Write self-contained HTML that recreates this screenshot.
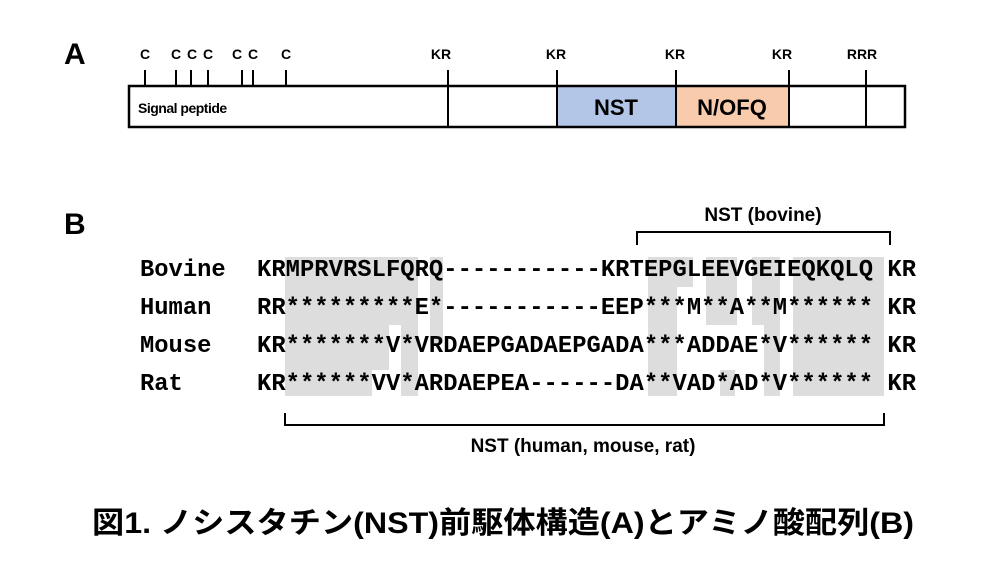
<!DOCTYPE html>
<html><head><meta charset="utf-8"><style>
body{margin:0;background:#fff;}
svg text{font-family:"Liberation Sans",sans-serif;font-weight:bold;}
svg .mono text{font-family:"Liberation Mono","DejaVu Sans Mono",monospace;font-weight:bold;font-size:23.8px;}
</style></head><body>
<svg width="1000" height="563" viewBox="0 0 1000 563" xmlns="http://www.w3.org/2000/svg">
<text x="64" y="64" font-size="30">A</text>
<g stroke="#000" stroke-width="2">
<line x1="145" y1="70" x2="145" y2="86"/><line x1="176" y1="70" x2="176" y2="86"/><line x1="191" y1="70" x2="191" y2="86"/><line x1="208" y1="70" x2="208" y2="86"/><line x1="242" y1="70" x2="242" y2="86"/><line x1="253" y1="70" x2="253" y2="86"/><line x1="286" y1="70" x2="286" y2="86"/>
<line x1="448" y1="70" x2="448" y2="86"/><line x1="557" y1="70" x2="557" y2="86"/><line x1="676" y1="70" x2="676" y2="86"/><line x1="789" y1="70" x2="789" y2="86"/><line x1="866" y1="70" x2="866" y2="86"/>
</g>
<g font-size="14" text-anchor="middle">
<text x="145" y="59">C</text><text x="176" y="59">C</text><text x="192" y="59">C</text><text x="208" y="59">C</text><text x="237" y="59">C</text><text x="253" y="59">C</text><text x="286" y="59">C</text>
<text x="441" y="59">KR</text><text x="556" y="59">KR</text><text x="675" y="59">KR</text><text x="782" y="59">KR</text><text x="862" y="59">RRR</text>
</g>
<rect x="557" y="86" width="119" height="41" fill="#b4c6e7"/>
<rect x="676" y="86" width="113" height="41" fill="#f8cbad"/>
<rect x="129" y="86" width="776" height="41" fill="none" stroke="#000" stroke-width="2.5"/>
<g stroke="#000" stroke-width="2"><line x1="448" y1="86" x2="448" y2="127"/><line x1="557" y1="86" x2="557" y2="127"/><line x1="676" y1="86" x2="676" y2="127"/><line x1="789" y1="86" x2="789" y2="127"/><line x1="866" y1="86" x2="866" y2="127"/></g>
<text x="138" y="113" font-size="14" letter-spacing="-0.5">Signal peptide</text>
<text x="616" y="115" font-size="22" text-anchor="middle">NST</text>
<text x="732" y="115" font-size="22" text-anchor="middle">N/OFQ</text>

<text x="64" y="234" font-size="30">B</text>
<text x="763" y="221" font-size="19" text-anchor="middle">NST (bovine)</text>
<path d="M637 245 V232 H890 V245" fill="none" stroke="#000" stroke-width="2"/>

<g fill="#dcdddc">
<rect x="285" y="257" width="133" height="68"/>
<rect x="285" y="325" width="104" height="45"/><rect x="401" y="325" width="17" height="71"/>
<rect x="285" y="370" width="87" height="26"/>
<rect x="430" y="257" width="13" height="86"/>
<rect x="648" y="257" width="29" height="139"/><rect x="677" y="257" width="16" height="30"/>
<rect x="706" y="257" width="31" height="68"/>
<rect x="720" y="370" width="15" height="26"/>
<rect x="752" y="257" width="15" height="68"/>
<rect x="764" y="257" width="16" height="139"/>
<rect x="793" y="257" width="91" height="139"/>
</g>
<g class="mono">
<text x="140" y="276">Bovine</text>
<text x="140" y="314">Human</text>
<text x="140" y="352">Mouse</text>
<text x="140" y="390">Rat</text>
<text x="257" y="276" textLength="659" lengthAdjust="spacing" xml:space="preserve">KRMPRVRSLFQRQ-----------KRTEPGLEEVGEIEQKQLQ KR</text>
<text x="257" y="314" textLength="659" lengthAdjust="spacing" xml:space="preserve">RR*********E*-----------EEP***M**A**M****** KR</text>
<text x="257" y="352" textLength="659" lengthAdjust="spacing" xml:space="preserve">KR*******V*VRDAEPGADAEPGADA***ADDAE*V****** KR</text>
<text x="257" y="390" textLength="659" lengthAdjust="spacing" xml:space="preserve">KR******VV*ARDAEPEA------DA**VAD*AD*V****** KR</text>
</g>
<path d="M285 413 V425 H884 V413" fill="none" stroke="#000" stroke-width="2"/>
<text x="583" y="452" font-size="19" text-anchor="middle">NST (human, mouse, rat)</text>
<text x="503" y="533" font-size="30" text-anchor="middle" style="font-family:'Liberation Sans','Noto Sans CJK JP',sans-serif;font-weight:bold" textLength="822" lengthAdjust="spacingAndGlyphs">図1. ノシスタチン(NST)前駆体構造(A)とアミノ酸配列(B)</text>
</svg>
</body></html>
